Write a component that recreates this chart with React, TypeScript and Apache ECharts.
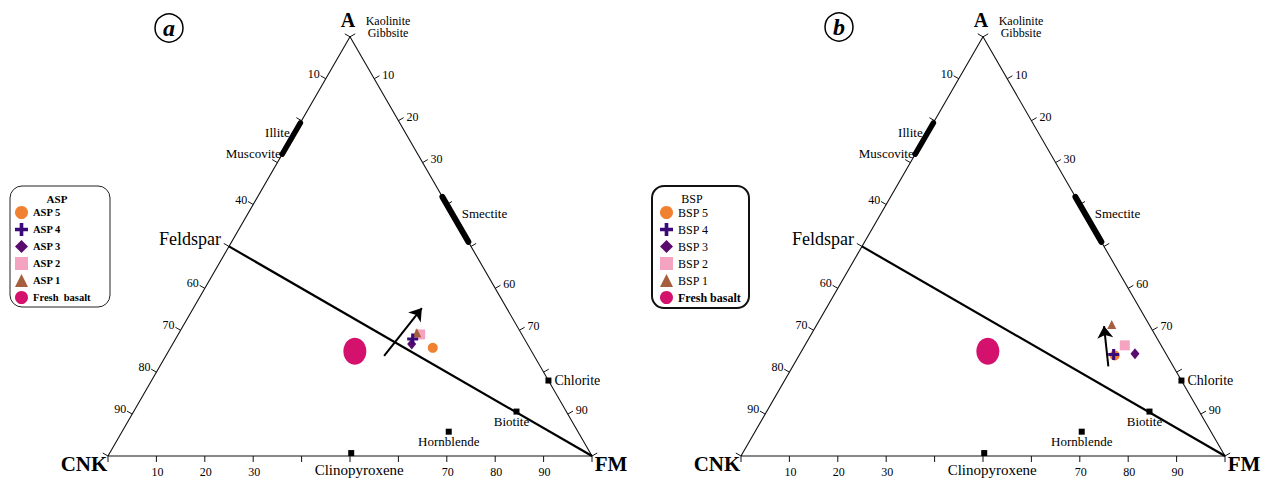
import React, { useEffect, useRef } from 'react';
import * as echarts from 'echarts';

// ---------- data (ternary A / CNK / FM, in %) ----------
const aspNames = ['ASP 5', 'ASP 4', 'ASP 3', 'ASP 2', 'ASP 1'];
const aspA = [25.8, 27.9, 26.7, 29.0, 29.4];
const aspCNK = [20.0, 23.1, 23.9, 21.0, 21.5];
const aspFM = [54.2, 49.0, 49.4, 50.0, 49.1];

const bspNames = ['BSP 5', 'BSP 4', 'BSP 3', 'BSP 2', 'BSP 1'];
const bspA = [24.0, 24.2, 24.4, 26.4, 31.4];
const bspCNK = [10.8, 10.9, 6.4, 7.5, 7.7];
const bspFM = [65.2, 64.9, 69.2, 66.1, 60.9];

// Fresh basalt: A, CNK, FM
const freshBasalt = [25.0, 36.5, 38.5];

const mineralNames = ['Chlorite', 'Biotite', 'Hornblende', 'Clinopyroxene'];
const mineralA = [18.0, 10.6, 5.8, 0.7];
const mineralCNK = [0.0, 10.3, 26.7, 49.4];
const mineralFM = [82.0, 79.1, 67.5, 49.9];

// Illite–Muscovite band on A–CNK edge (A values), Smectite band on A–FM edge (A values)
const illiteBandA = [79.5, 72.0];
const smectiteBandA = [61.8, 51.1];
// Feldspar on A–CNK edge
const feldspar = [50, 50, 0];

// weathering arrows: [start A, CNK, FM], [end A, CNK, FM]
const arrowASP = [[23.9, 31.0, 45.1], [35.3, 17.5, 47.2]];
const arrowBSP = [[21.4, 13.4, 65.2], [31.0, 9.5, 59.5]];

const tickValues = [0, 10, 20, 30, 40, 50, 60, 70, 80, 90, 100];
const leftLabels = [10, 40, 60, 70, 80, 90];
const rightLabels = [10, 20, 30, 60, 70, 90];
const baseLabels = [10, 20, 30, 70, 80, 90];

const seriesColors = ['#ef8130', '#3a0a78', '#5a0c6e', '#f4a4c0', '#a65f3e'];
const freshColor = '#d4116d';

// ---------- helpers ----------
const S3 = Math.sqrt(3) / 2;
const FONT = "'Liberation Serif', 'Times New Roman', serif";

function tern(a: number, cnk: number, fm: number): [number, number] {
  const s = a + cnk + fm;
  const A = (a / s) * 100;
  const F = (fm / s) * 100;
  return [F + A / 2, A * S3];
}

const symbolsByIndex = [
  'circle',
  'path://M3.6,0H6.4V3.6H10V6.4H6.4V10H3.6V6.4H0V3.6H3.6Z',
  'diamond',
  'rect',
  'triangle',
];
const sizesByIndex: any[] = [10, 11, [9, 11], 10, 9];

const txt = { color: '#000', fontFamily: FONT, textBorderWidth: 0, textShadowBlur: 0 };

function buildPanel(
  g: number,
  names: string[],
  A: number[],
  C: number[],
  F: number[],
  arrow: number[][],
  freshName: string
) {
  const ax = { xAxisIndex: g, yAxisIndex: g };
  const series: any[] = [];
  // triangle
  series.push({
    type: 'line', ...ax, name: 'frame' + g, silent: true, clip: false, symbol: 'none', z: 1,
    data: [tern(0, 100, 0), tern(0, 0, 100), tern(100, 0, 0), tern(0, 100, 0)],
    lineStyle: { color: '#111', width: 1.1 },
  });
  // feldspar - FM line
  series.push({
    type: 'line', ...ax, name: 'fsp' + g, silent: true, clip: false, symbol: 'none', z: 2,
    data: [tern(feldspar[0], feldspar[1], feldspar[2]), tern(0, 0, 100)],
    lineStyle: { color: '#000', width: 2.2 },
  });
  // thick mineral bands
  series.push({
    type: 'line', ...ax, name: 'ill' + g, silent: true, clip: false, symbol: 'none', z: 3,
    data: illiteBandA.map((a) => tern(a, 100 - a, 0)),
    lineStyle: { color: '#000', width: 5.5, cap: 'round' },
  });
  series.push({
    type: 'line', ...ax, name: 'sme' + g, silent: true, clip: false, symbol: 'none', z: 3,
    data: smectiteBandA.map((a) => tern(a, 0, 100 - a)),
    lineStyle: { color: '#000', width: 6, cap: 'round' },
  });
  // ticks
  const tickData: number[][] = [];
  tickValues.forEach((v) => {
    const l = tern(100 - v, v, 0);
    tickData.push([l[0], l[1], -0.866, -0.5]);
    const r = tern(100 - v, 0, v);
    tickData.push([r[0], r[1], 0.866, -0.5]);
    const b = tern(0, 100 - v, v);
    tickData.push([b[0], b[1], 0, 1]);
  });
  series.push({
    type: 'custom', ...ax, name: 'ticks' + g, silent: true, clip: false, z: 2,
    encode: { x: 0, y: 1 },
    data: tickData,
    renderItem: (params: any, api: any) => {
      const p = api.coord([api.value(0), api.value(1)]);
      const nx = api.value(2);
      const ny = api.value(3);
      return {
        type: 'line',
        shape: { x1: p[0], y1: p[1], x2: p[0] + nx * 6, y2: p[1] + ny * 6 },
        style: { stroke: '#111', lineWidth: 1 },
      };
    },
  });
  // tick labels
  const tl: any[] = [];
  leftLabels.forEach((v) => tl.push({ name: String(v), value: tern(100 - v, v, 0), label: { offset: [-12, -5] } }));
  rightLabels.forEach((v) => tl.push({ name: String(v), value: tern(100 - v, 0, v), label: { offset: [14, -4] } }));
  baseLabels.forEach((v) => tl.push({ name: String(v), value: tern(0, 100 - v, v), label: { offset: [1, 16] } }));
  series.push({
    type: 'scatter', ...ax, name: 'ticklabels' + g, silent: true, clip: false, z: 4,
    symbolSize: 1, itemStyle: { color: 'rgba(0,0,0,0)', opacity: 1 },
    label: { show: true, position: 'inside', formatter: '{b}', ...txt, fontSize: 12 },
    data: tl,
  });
  // vertex & annotation labels
  const an: any[] = [
    { name: 'A', value: tern(100, 0, 0), label: { offset: [-2, -17], fontSize: 20, fontWeight: 'bold' } },
    { name: 'CNK', value: tern(0, 100, 0), label: { offset: [-24, 8], fontSize: 21, fontWeight: 'bold' } },
    { name: 'FM', value: tern(0, 0, 100), label: { offset: [19, 8], fontSize: 21, fontWeight: 'bold' } },
    { name: 'Kaolinite', value: tern(100, 0, 0), label: { offset: [38, -16], fontSize: 12 } },
    { name: 'Gibbsite', value: tern(100, 0, 0), label: { offset: [38, -3.5], fontSize: 12 } },
    { name: 'Feldspar', value: tern(feldspar[0], feldspar[1], feldspar[2]), label: { offset: [-39, -7], fontSize: 18 } },
    { name: 'Illite', value: tern(illiteBandA[0], 100 - illiteBandA[0], 0), label: { offset: [-23, 10], fontSize: 13 } },
    { name: 'Muscovite', value: tern(illiteBandA[1], 100 - illiteBandA[1], 0), label: { offset: [-29, -1], fontSize: 13 } },
    { name: 'Smectite', value: tern(smectiteBandA[0], 0, 100 - smectiteBandA[0]), label: { offset: [42, 17], fontSize: 13 } },
  ];
  series.push({
    type: 'scatter', ...ax, name: 'annot' + g, silent: true, clip: false, z: 4,
    symbolSize: 1, itemStyle: { color: 'rgba(0,0,0,0)', opacity: 1 },
    label: { show: true, position: 'inside', formatter: '{b}', ...txt },
    data: an,
  });
  // minerals
  const mLabel: Record<string, any> = {
    Chlorite: { position: 'right', distance: 3, fontSize: 14 },
    Biotite: { position: 'inside', offset: [-5, 10], fontSize: 13 },
    Hornblende: { position: 'inside', offset: [0, 10], fontSize: 13 },
    Clinopyroxene: { position: 'inside', offset: [8, 17], fontSize: 15 },
  };
  series.push({
    type: 'scatter', ...ax, name: 'minerals' + g, silent: true, clip: false, z: 5,
    symbol: 'rect', symbolSize: 6, itemStyle: { color: '#000', opacity: 1 },
    label: { show: true, formatter: '{b}', ...txt },
    data: mineralNames.map((n, i) => ({
      name: n,
      value: tern(mineralA[i], mineralCNK[i], mineralFM[i]),
      label: mLabel[n],
    })),
  });
  // arrow
  series.push({
    type: 'lines', coordinateSystem: 'cartesian2d', ...ax, name: 'arrow' + g, silent: true, z: 6,
    symbol: ['none', 'arrow'], symbolSize: [10, 12],
    lineStyle: { color: '#000', width: 2, opacity: 1 },
    data: [{ coords: [tern(arrow[0][0], arrow[0][1], arrow[0][2]), tern(arrow[1][0], arrow[1][1], arrow[1][2])] }],
  });
  // fresh basalt
  series.push({
    type: 'scatter', ...ax, name: freshName, clip: false, z: 7,
    symbol: 'circle', symbolSize: [23, 27], itemStyle: { color: freshColor, opacity: 1 },
    data: [tern(freshBasalt[0], freshBasalt[1], freshBasalt[2])],
  });
  // samples, draw order: 5, 2, 1, 3, 4
  const order = [0, 3, 4, 2, 1];
  order.forEach((i) => {
    series.push({
      type: 'scatter', ...ax, name: names[i], clip: false, z: 8,
      symbol: symbolsByIndex[i], symbolSize: sizesByIndex[i],
      itemStyle: { color: seriesColors[i], opacity: 1 },
      data: [tern(A[i], C[i], F[i])],
    });
  });
  return series;
}

export default function App() {
  const ref = useRef<HTMLDivElement>(null);
  useEffect(() => {
    document.body.style.margin = '0';
    const chart = echarts.init(ref.current!, null, { renderer: 'svg' });
    const H = 484 * S3;
    const option: any = {
      animation: false,
      backgroundColor: '#ffffff',
      grid: [
        { left: 108, top: 456 - H, width: 484, height: H },
        { left: 741, top: 456 - H, width: 484, height: H },
      ],
      xAxis: [
        { type: 'value', gridIndex: 0, min: 0, max: 100, show: false },
        { type: 'value', gridIndex: 1, min: 0, max: 100, show: false },
      ],
      yAxis: [
        { type: 'value', gridIndex: 0, min: 0, max: 100 * S3, show: false },
        { type: 'value', gridIndex: 1, min: 0, max: 100 * S3, show: false },
      ],
      legend: [
        {
          data: [...aspNames, 'Fresh  basalt'],
          orient: 'vertical', left: 15, top: 206, padding: 0, itemWidth: 13, itemHeight: 13, itemGap: 4,
          selectedMode: false,
          textStyle: { fontFamily: FONT, fontWeight: 'bold', fontSize: 10.5, color: '#000' },
        },
        {
          data: [...bspNames, { name: 'Fresh basalt', textStyle: { fontWeight: 'bold' } }],
          orient: 'vertical', left: 660, top: 206, padding: 0, itemWidth: 13, itemHeight: 13, itemGap: 4,
          selectedMode: false,
          textStyle: { fontFamily: FONT, fontSize: 12, color: '#000' },
        },
      ],
      graphic: [
        { type: 'rect', shape: { x: 10, y: 186, width: 100, height: 121, r: 12 }, style: { fill: 'none', stroke: '#222', lineWidth: 1 } },
        { type: 'text', x: 57, y: 199, style: { text: 'ASP', font: `bold 11px ${FONT}`, align: 'center', verticalAlign: 'middle', fill: '#000' } },
        { type: 'rect', shape: { x: 652, y: 186, width: 97, height: 122, r: 12 }, style: { fill: 'none', stroke: '#111', lineWidth: 2 } },
        { type: 'text', x: 692, y: 199, style: { text: 'BSP', font: `12px ${FONT}`, align: 'center', verticalAlign: 'middle', fill: '#000' } },
        { type: 'circle', shape: { cx: 169, cy: 28, r: 14 }, style: { fill: 'none', stroke: '#000', lineWidth: 1.5 } },
        { type: 'text', x: 169, y: 28, style: { text: 'a', font: `italic bold 24px ${FONT}`, align: 'center', verticalAlign: 'middle', fill: '#000' } },
        { type: 'circle', shape: { cx: 839, cy: 27, r: 14 }, style: { fill: 'none', stroke: '#000', lineWidth: 1.5 } },
        { type: 'text', x: 839, y: 27, style: { text: 'b', font: `italic bold 24px ${FONT}`, align: 'center', verticalAlign: 'middle', fill: '#000' } },
      ],
      series: [
        ...buildPanel(0, aspNames, aspA, aspCNK, aspFM, arrowASP, 'Fresh  basalt'),
        ...buildPanel(1, bspNames, bspA, bspCNK, bspFM, arrowBSP, 'Fresh basalt'),
      ],
    };
    chart.setOption(option);
    return () => chart.dispose();
  }, []);
  return <div ref={ref} style={{ width: 1269, height: 479 }} />;
}
